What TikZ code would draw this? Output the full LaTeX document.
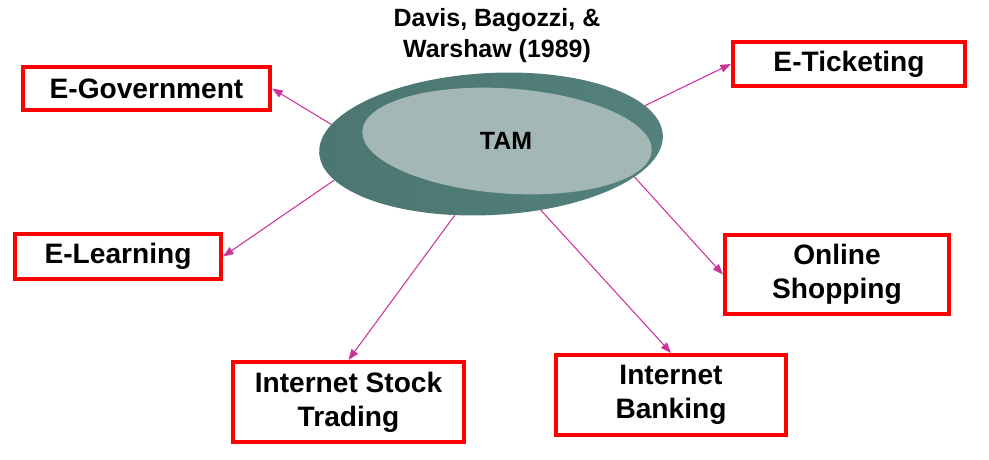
\documentclass[tikz,border=0pt]{standalone}
\usepackage{fontspec}
\setmainfont{Liberation Sans}
\usetikzlibrary{arrows.meta,shapes.geometric}
\definecolor{boxred}{HTML}{FF0000}
\definecolor{linkpink}{HTML}{CC3399}
\definecolor{dishdark}{HTML}{405F5C}
\definecolor{dishleft}{HTML}{4B7672}
\definecolor{dishedge}{HTML}{54817D}
\definecolor{dishtop}{HTML}{A3B8B5}

\begin{document}
\begin{tikzpicture}[
  box/.style={draw=boxred, line width=2.1pt, fill=white, align=center, inner sep=2pt, font=\bfseries\fontsize{16}{19.3}\selectfont},
  label/.style={align=center, font=\bfseries\fontsize{14.2}{17.6}\selectfont},
  arrow/.style={-{Triangle[length=6pt,width=4.5pt]}, draw=linkpink, line width=0.6pt}
]
\useasboundingbox (0,0) rectangle (19.78,-9.18);

% the TAM dish
\node[ellipse, minimum width=6.88cm, minimum height=2.84cm, rotate=3,
  left color=dishleft, middle color=dishdark, right color=dishedge] (dish) at (9.82,-2.88) {};
\fill[dishtop, rotate around={-4:(10.14,-2.82)}] (10.14,-2.82) ellipse [x radius=2.9, y radius=1.05];
\node[label] (tam) at (10.12,-2.82) {TAM};
\node[label] (src) at (9.94,-0.72) {Davis, Bagozzi, \&\\Warshaw (1989)};

% application areas
\node[box, minimum width=4.95cm, minimum height=0.87cm] (gov) at (2.93,-1.77) {E-Government};
\node[box, minimum width=4.13cm, minimum height=0.91cm] (learn) at (2.36,-5.13) {E-Learning};
\node[box, minimum width=4.65cm, minimum height=0.89cm] (ticket) at (16.98,-1.28) {E-Ticketing};
\node[box, minimum width=4.49cm, minimum height=1.59cm] (shop) at (16.74,-5.49) {Online\\Shopping};
\node[box, minimum width=4.63cm, minimum height=1.61cm] (stock) at (6.97,-8.04) {Internet Stock\\Trading};
\node[box, minimum width=4.61cm, minimum height=1.61cm] (bank) at (13.42,-7.90) {Internet\\Banking};

\draw[arrow] (dish.170) -- (gov.east);
\draw[arrow] (dish.190) -- (learn.east);
\draw[arrow] (dish.11) -- (ticket.west);
\draw[arrow] (dish.344) -- (shop.west);
\draw[arrow] (dish.240) -- (stock.north);
\draw[arrow] (dish.304) -- (bank.north);
\end{tikzpicture}
\end{document}
